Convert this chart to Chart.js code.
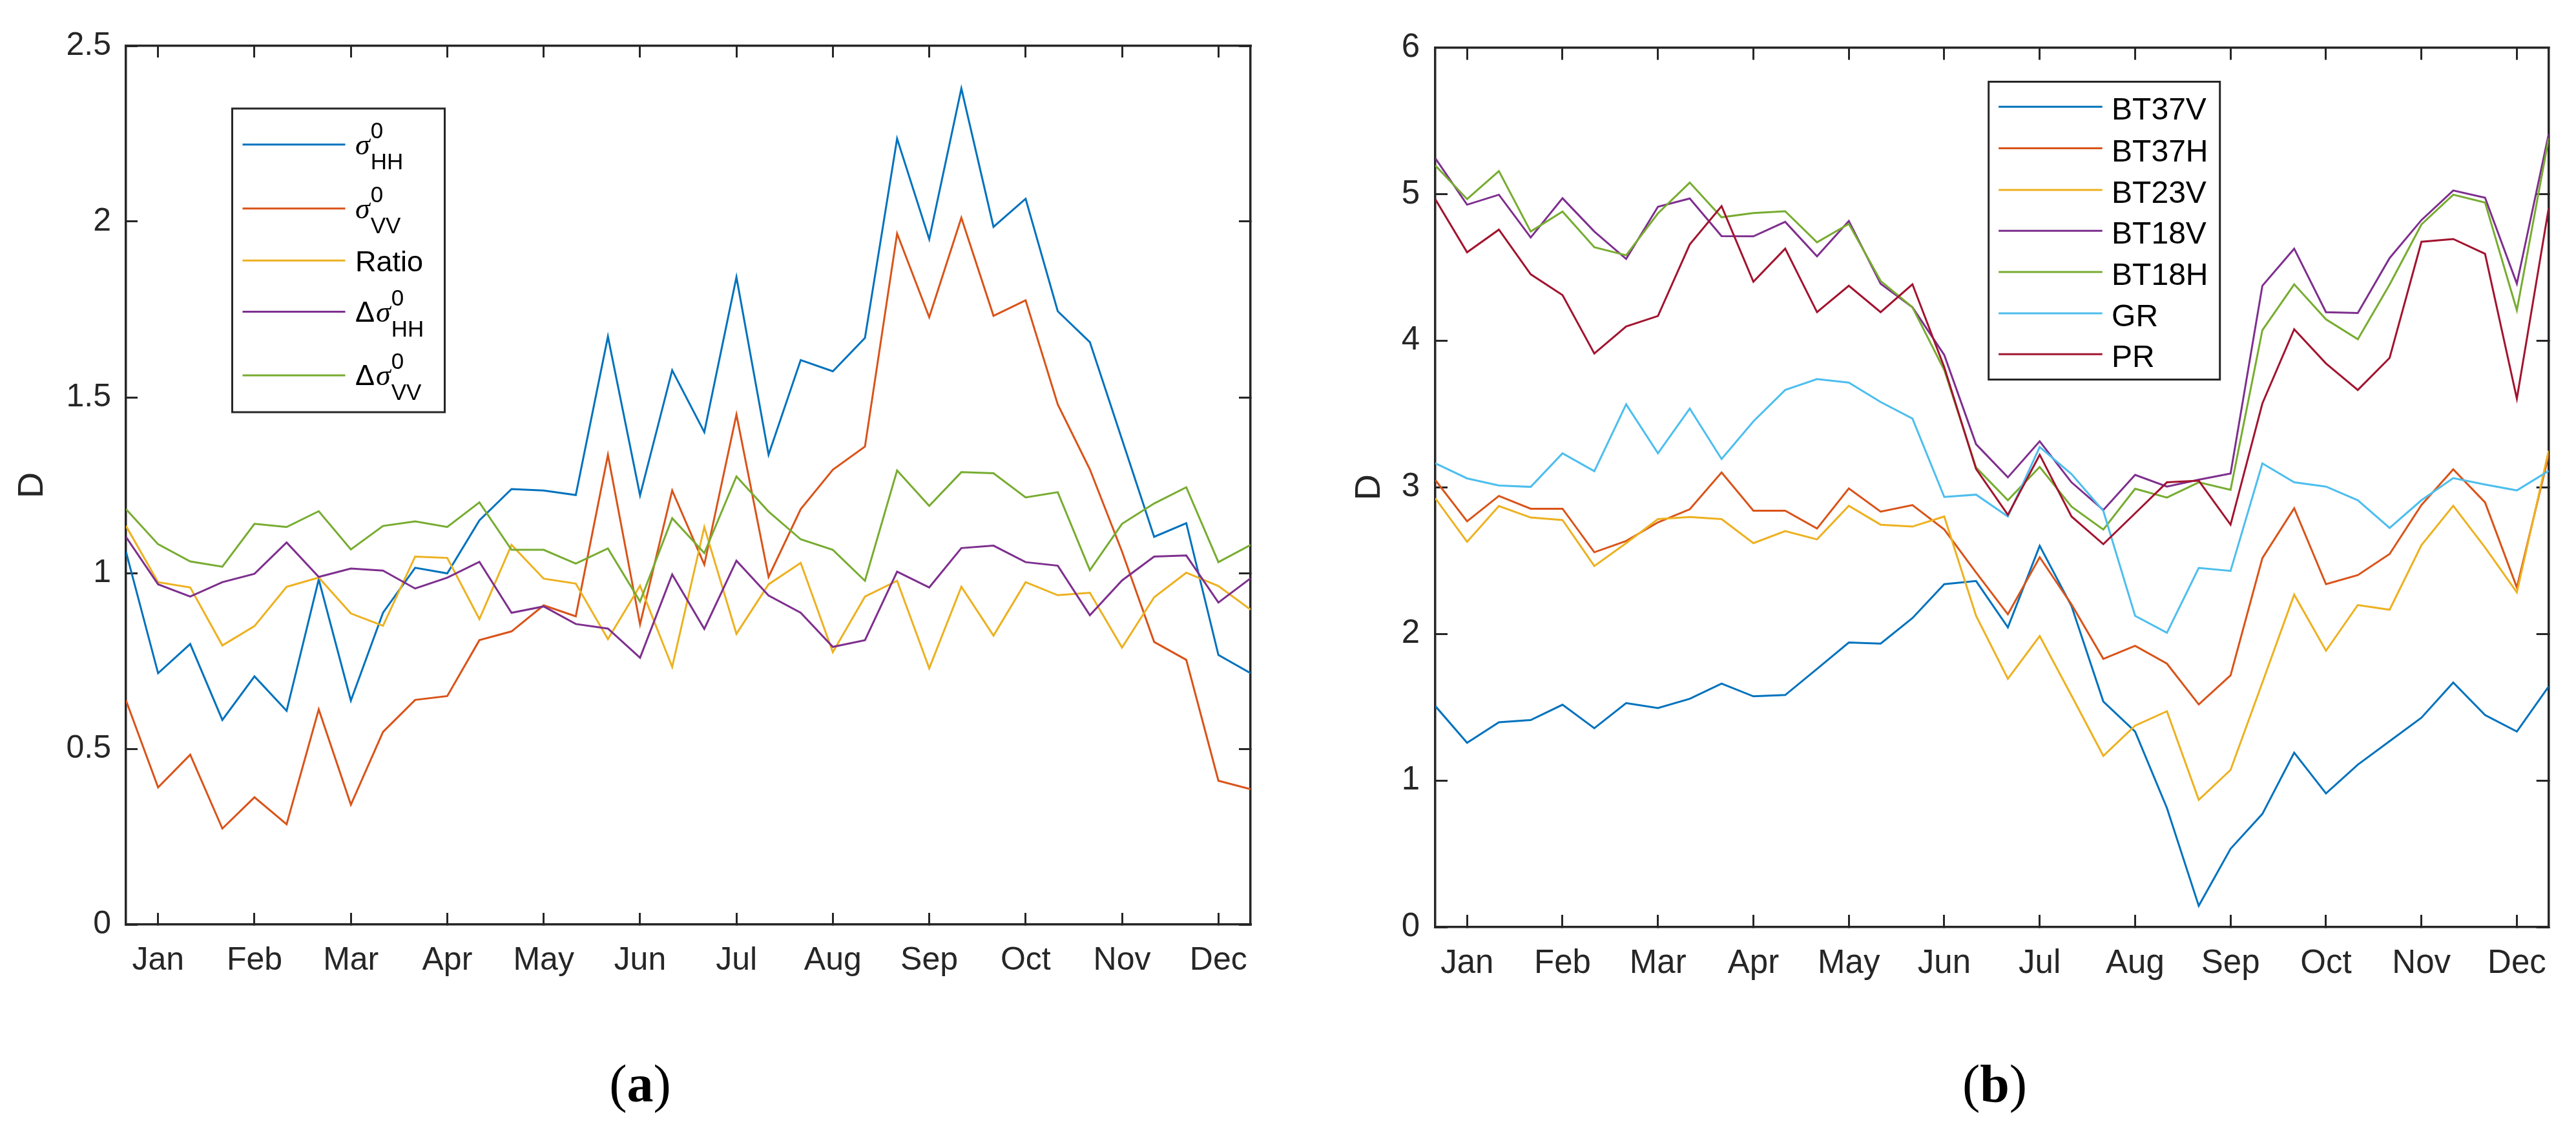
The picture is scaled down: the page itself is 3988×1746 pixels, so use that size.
<!DOCTYPE html>
<html><head><meta charset="utf-8">
<script src="https://cdn.jsdelivr.net/npm/chart.js@4.4.1/dist/chart.umd.min.js"></script>
<style>
html,body{margin:0;padding:0;background:#fff;width:3988px;height:1746px;overflow:hidden}
canvas{position:absolute;top:0}
.cap{position:absolute;font-family:'Liberation Serif','Times New Roman',serif;font-size:82px;color:#000;line-height:1;transform:translateX(-50%);white-space:nowrap}
</style></head><body>
<canvas id="ca" width="1994" height="1746" style="left:0;width:1994px;height:1746px"></canvas>
<canvas id="cb" width="1994" height="1746" style="left:1994px;width:1994px;height:1746px"></canvas>
<div class="cap" style="left:991px;top:1637px">(<b>a</b>)</div>
<div class="cap" style="left:3088px;top:1637px">(<b>b</b>)</div>
<script>
// ---------- data ----------
const months = ['Jan','Feb','Mar','Apr','May','Jun','Jul','Aug','Sep','Oct','Nov','Dec'];
const monthTicks = [1,4,7,10,13,16,19,22,25,28,31,34];

// panel (a)
const labelsA = ['σ^0_HH','σ^0_VV','Ratio','Δσ^0_HH','Δσ^0_VV'];
const sigmaHH = [1.061,0.715,0.798,0.582,0.706,0.608,0.982,0.637,0.887,1.015,0.999,1.150,1.239,1.235,1.222,1.673,1.221,1.577,1.401,1.842,1.337,1.606,1.574,1.669,2.236,1.950,2.379,1.985,2.065,1.745,1.657,1.380,1.103,1.142,0.767,0.715];
const sigmaVV = [0.638,0.390,0.483,0.273,0.362,0.285,0.612,0.341,0.548,0.639,0.650,0.809,0.834,0.908,0.877,1.336,0.854,1.235,1.024,1.451,0.989,1.182,1.294,1.360,1.966,1.728,2.011,1.732,1.776,1.480,1.295,1.061,0.804,0.753,0.409,0.385];
const ratio   = [1.134,0.974,0.959,0.794,0.849,0.961,0.987,0.885,0.850,1.047,1.043,0.869,1.080,0.984,0.970,0.812,0.964,0.733,1.131,0.827,0.968,1.029,0.775,0.933,0.978,0.729,0.961,0.822,0.974,0.937,0.944,0.788,0.931,1.001,0.963,0.896];
const dSigmaHH = [1.103,0.968,0.933,0.974,0.998,1.087,0.989,1.013,1.007,0.956,0.987,1.032,0.887,0.905,0.855,0.842,0.759,0.996,0.841,1.035,0.936,0.887,0.790,0.809,1.004,0.959,1.071,1.078,1.031,1.021,0.880,0.979,1.047,1.050,0.916,0.985];
const dSigmaVV = [1.182,1.082,1.033,1.018,1.140,1.131,1.176,1.067,1.134,1.147,1.131,1.201,1.066,1.066,1.027,1.070,0.919,1.156,1.057,1.275,1.175,1.096,1.066,0.978,1.292,1.191,1.287,1.284,1.215,1.230,1.008,1.140,1.198,1.244,1.031,1.080];

// panel (b)
const labelsB = ['BT37V','BT37H','BT23V','BT18V','BT18H','GR','PR'];
const bt37v = [1.508,1.257,1.397,1.412,1.517,1.357,1.528,1.494,1.557,1.661,1.574,1.583,1.761,1.941,1.934,2.108,2.339,2.361,2.045,2.601,2.190,1.539,1.334,0.812,0.145,0.534,0.772,1.190,0.912,1.108,1.268,1.428,1.668,1.446,1.334,1.641];
const bt37h = [3.050,2.768,2.941,2.854,2.854,2.557,2.634,2.761,2.850,3.101,2.841,2.841,2.719,2.992,2.834,2.879,2.712,2.419,2.134,2.523,2.201,1.830,1.919,1.797,1.519,1.717,2.517,2.857,2.339,2.401,2.545,2.879,3.123,2.897,2.317,3.220];
const bt23v = [2.925,2.628,2.872,2.794,2.777,2.463,2.619,2.783,2.797,2.783,2.619,2.701,2.645,2.874,2.745,2.732,2.801,2.123,1.694,1.985,1.579,1.168,1.374,1.472,0.868,1.072,1.668,2.268,1.885,2.197,2.165,2.605,2.874,2.590,2.283,3.250];
const bt18v = [5.245,4.928,4.996,4.704,4.972,4.745,4.558,4.914,4.970,4.714,4.712,4.811,4.576,4.817,4.389,4.228,3.903,3.294,3.068,3.314,3.034,2.845,3.085,3.005,3.052,3.094,4.375,4.628,4.195,4.189,4.564,4.823,5.025,4.976,4.389,5.410];
const bt18h = [5.196,4.966,5.157,4.745,4.881,4.638,4.583,4.869,5.079,4.842,4.871,4.883,4.671,4.797,4.408,4.228,3.800,3.135,2.912,3.139,2.868,2.712,2.990,2.930,3.034,2.983,4.072,4.385,4.146,4.010,4.383,4.793,4.996,4.943,4.208,5.381];
const gr    = [3.164,3.061,3.012,3.003,3.232,3.110,3.566,3.232,3.537,3.193,3.450,3.664,3.738,3.714,3.582,3.469,2.934,2.950,2.801,3.275,3.090,2.839,2.123,2.008,2.450,2.430,3.163,3.034,3.005,2.912,2.723,2.912,3.063,3.019,2.979,3.112];
const pr    = [4.966,4.603,4.758,4.453,4.311,3.913,4.097,4.169,4.657,4.918,4.403,4.628,4.195,4.375,4.195,4.385,3.820,3.125,2.812,3.222,2.801,2.612,2.823,3.034,3.045,2.745,3.572,4.078,3.845,3.664,3.883,4.675,4.694,4.593,3.605,4.904];

// ---------- styles ----------
const COLORS = ['#0072BD','#D95319','#EDB120','#7E2F8E','#77AC30','#4DBEEE','#A2142F'];
const FONT = "'Liberation Sans', Arial, Helvetica, sans-serif";
const SERIF = "'Liberation Serif', 'Times New Roman', serif";
const AXIS = '#262626';

function buildDatasets(labels, series) {
  return series.map((vals, i) => ({
    label: labels[i],
    data: vals.map((v, j) => ({x: j, y: v})),
    borderColor: COLORS[i], backgroundColor: COLORS[i],
    borderWidth: 3, pointRadius: 0, pointHoverRadius: 0, tension: 0, fill: false,
    order: series.length - i
  }));
}

function drawRich(ctx, label, x, ly, o) {
  const m = /^([^^_]*)(?:\^([^_]*))?(?:_(.*))?$/.exec(label);
  const main = m[1], sup = m[2], sub = m[3];
  ctx.fillStyle = '#000';
  ctx.textAlign = 'left';
  ctx.textBaseline = 'alphabetic';
  if (sup === undefined && sub === undefined) {
    ctx.font = o.size + 'px ' + FONT;
    ctx.fillText(main, x, ly + o.plainBase);
    return;
  }
  let cx = x;
  for (const ch of main) {
    if (ch === 'σ') ctx.font = 'italic ' + o.sigmaSize + 'px ' + SERIF;
    else ctx.font = o.size + 'px ' + FONT;
    ctx.fillText(ch, cx, ly + o.mainBase);
    cx += ctx.measureText(ch).width + (ch === 'Δ' ? 2 : 1);
  }
  ctx.font = o.subSize + 'px ' + FONT;
  if (sup) ctx.fillText(sup, cx, ly + o.supBase);
  if (sub) ctx.fillText(sub, cx, ly + o.subBase);
}

const richLegend = {
  id: 'richLegend',
  afterDatasetsDraw(chart, args, o) {
    const ctx = chart.ctx, ca = chart.chartArea;
    const bx = ca.left + o.x, by = ca.top + o.y;
    ctx.save();
    ctx.fillStyle = '#fff';
    ctx.fillRect(bx, by, o.w, o.h);
    ctx.lineWidth = 3; ctx.strokeStyle = AXIS;
    ctx.strokeRect(bx, by, o.w, o.h);
    chart.data.datasets.forEach((ds, i) => {
      const ly = by + o.rows[i];
      ctx.beginPath();
      ctx.strokeStyle = ds.borderColor; ctx.lineWidth = ds.borderWidth;
      ctx.moveTo(bx + o.lineX0, ly); ctx.lineTo(bx + o.lineX1, ly); ctx.stroke();
      drawRich(ctx, ds.label, bx + o.textX, ly, o);
    });
    ctx.restore();
  }
};

function makeScales(c) {
  const grid = () => ({display: true, drawOnChartArea: false, drawTicks: true,
    tickLength: -c.tickLen, tickWidth: 3, tickColor: AXIS, color: AXIS, lineWidth: 3});
  const border = () => ({display: true, color: AXIS, width: 3.5});
  const monthBuild = s => { s.ticks = monthTicks.map(v => ({value: v})); };
  return {
    x: {type: 'linear', position: 'bottom', min: 0, max: 35, afterBuildTicks: monthBuild,
      ticks: {autoSkip: false, maxRotation: 0, minRotation: 0, color: AXIS,
        font: {family: FONT, size: c.tickSize}, padding: c.xPad,
        callback: (v, i) => months[i]},
      grid: grid(), border: border(), afterFit: s => { s.height = c.xAxisH; }},
    x2: {type: 'linear', position: 'top', min: 0, max: 35, afterBuildTicks: monthBuild,
      ticks: {display: false}, grid: grid(), border: border(), afterFit: s => { s.height = 0; }},
    y: {type: 'linear', position: 'left', min: 0, max: c.yMax,
      ticks: {stepSize: c.yStep, color: AXIS, font: {family: FONT, size: c.tickSize}, padding: c.yPad,
        callback: v => String(+v.toFixed(2))},
      title: {display: true, text: 'D', color: AXIS, font: {family: FONT, size: c.titleSize},
        padding: {top: c.titlePad, bottom: 0}},
      grid: grid(), border: border(), afterFit: s => { s.width = c.yAxisW; }},
    y2: {type: 'linear', position: 'right', min: 0, max: c.yMax,
      ticks: {display: false, stepSize: c.yStep}, grid: grid(), border: border(),
      afterFit: s => { s.width = 0; }}
  };
}

function makeChart(id, labels, series, c, legendOpts) {
  return new Chart(document.getElementById(id), {
    type: 'line',
    data: {datasets: buildDatasets(labels, series)},
    options: {
      responsive: false, maintainAspectRatio: false, devicePixelRatio: 1, animation: false,
      events: [],
      layout: {padding: c.pad},
      plugins: {legend: {display: false}, tooltip: {enabled: false}, richLegend: legendOpts},
      scales: makeScales(c)
    },
    plugins: [richLegend]
  });
}

makeChart('ca', labelsA, [sigmaHH, sigmaVV, ratio, dSigmaHH, dSigmaVV], {
  yMax: 2.5, yStep: 0.5, tickLen: 18, tickSize: 50, titleSize: 56, titlePad: 17,
  xPad: 44, yPad: 41, yAxisW: 195, xAxisH: 100,
  pad: {left: 0, right: 58, top: 58, bottom: 1746 - 1431 - 100}
}, {
  x: 164.5, y: 97, w: 329, h: 470, rows: [55.7, 154.8, 235.2, 314.6, 412.9],
  lineX0: 16, lineX1: 175, textX: 190.5, size: 45, sigmaSize: 46, subSize: 35,
  plainBase: 17, mainBase: 15, supBase: -10, subBase: 38
});

makeChart('cb', labelsB, [bt37v, bt37h, bt23v, bt18v, bt18h, gr, pr], {
  yMax: 6, yStep: 1, tickLen: 19, tickSize: 51, titleSize: 56, titlePad: 93,
  xPad: 45, yPad: 43, yAxisW: 228, xAxisH: 100,
  pad: {left: 0, right: 23, top: 57, bottom: 1746 - 1435 - 100}
}, {
  x: 856.7, y: 52.9, w: 358, h: 461, rows: [38.8, 103.1, 167.4, 230.8, 294.6, 358.5, 421.8],
  lineX0: 15.4, lineX1: 176, textX: 190.4, size: 48, sigmaSize: 48, subSize: 36,
  plainBase: 20, mainBase: 15, supBase: -10, subBase: 38
});
</script>
</body></html>
